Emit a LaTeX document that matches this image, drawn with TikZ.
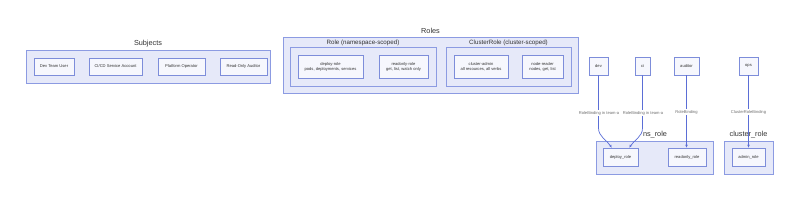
\documentclass[tikz,border=0pt]{standalone}
\usepackage{fontspec}
\setmainfont{Liberation Sans}
\usetikzlibrary{arrows.meta}
\definecolor{clfill}{HTML}{E6E9F9}
\definecolor{cldraw}{HTML}{8C9BE2}
\definecolor{ndfill}{HTML}{F6F7FD}
\definecolor{nddraw}{HTML}{7D8DDA}
\definecolor{edcol}{HTML}{5B6ED6}
\definecolor{txcol}{HTML}{333333}
\definecolor{lbcol}{HTML}{6E6E6E}
\begin{document}
\begin{tikzpicture}[x=1pt,y=-1pt,
  cluster/.style={draw=cldraw,fill=clfill,line width=0.9pt},
  ctitle/.style={text=txcol,font=\fontsize{7.3}{8}\selectfont,inner sep=0pt},
  csub/.style={text=txcol,font=\fontsize{6.2}{7}\selectfont,inner sep=0pt},
  nd/.style={draw=nddraw,fill=ndfill,line width=0.9pt,text=txcol,align=center,
    font=\fontsize{4.1}{5}\selectfont,inner sep=1pt,minimum height=18pt},
  edge/.style={draw=edcol,line width=0.7pt,-{Stealth[length=3pt,width=2.6pt]}},
  elabel/.style={fill=white,text=lbcol,font=\fontsize{4.1}{5}\selectfont,inner sep=0.6pt}]
\useasboundingbox (0,0) rectangle (800,201);
% Subjects
\draw[cluster] (26,50) rectangle (270,83);
\node[ctitle] (tsubj) at (148,44) {Subjects};
\node[nd,minimum width=40pt,minimum height=17pt] (u1) at (54,66.5) {Dev Team User};
\node[nd,minimum width=53pt,minimum height=17pt] (u2) at (115.5,66.5) {CI/CD Service Account};
\node[nd,minimum width=47pt,minimum height=17pt] (u3) at (181.5,66.5) {Platform Operator};
\node[nd,minimum width=47pt,minimum height=17pt] (u4) at (243.5,66.5) {Read-Only Auditor};
% Roles
\draw[cluster] (283,37) rectangle (578,93);
\node[ctitle] (troles) at (430.5,31) {Roles};
\draw[cluster] (290,47) rectangle (436,86);
\node[csub] (tns) at (363,42.5) {Role (namespace-scoped)};
\draw[cluster] (446,47) rectangle (571,86);
\node[csub] (tcl) at (508.5,42.5) {ClusterRole (cluster-scoped)};
\node[nd,minimum width=65pt,minimum height=23pt] (r1) at (330.5,66.5) {deploy-role\\pods, deployments, services};
\node[nd,minimum width=49pt,minimum height=23pt] (r2) at (403.5,66.5) {readonly-role\\get, list, watch only};
\node[nd,minimum width=54pt,minimum height=23pt] (r3) at (481,66.5) {cluster-admin\\all resources, all verbs};
\node[nd,minimum width=41pt,minimum height=23pt] (r4) at (542.5,66.5) {node-reader\\nodes, get, list};
% Bindings
\draw[cluster] (596,141) rectangle (713,174);
\node[ctitle] (tnsr) at (655,135) {ns\_role};
\draw[cluster] (724,141) rectangle (773,174);
\node[ctitle] (tclr) at (748.5,135) {cluster\_role};
\node[nd,minimum width=19pt] (dev) at (598.5,66) {dev};
\node[nd,minimum width=15pt] (ci) at (642.5,66) {ci};
\node[nd,minimum width=25pt] (aud) at (686.5,66) {auditor};
\node[nd,minimum width=19pt] (ops) at (748.5,66) {ops};
\node[nd,minimum width=35pt] (dr) at (620.5,157) {deploy\_role};
\node[nd,minimum width=38pt] (rr) at (687,157) {readonly\_role};
\node[nd,minimum width=33pt] (ar) at (748.5,157) {admin\_role};
\draw[edge] (dev.south) -- (598.5,128) .. controls (598.5,137) and (607,140) .. ([xshift=9pt]dr.north west);
\draw[edge] (ci.south) -- (642.5,128) .. controls (642.5,137) and (634,140) .. ([xshift=-9pt]dr.north east);
\draw[edge] (aud.south) -- (aud.south |- rr.north);
\draw[edge] (ops.south) -- (ops.south |- ar.north);
\node[elabel] (l1) at (599,113) {RoleBinding in team-a};
\node[elabel] (l2) at (643,113) {RoleBinding in team-a};
\node[elabel] (l3) at (686.5,112) {RoleBinding};
\node[elabel] (l4) at (748.5,112) {ClusterRoleBinding};
\end{tikzpicture}
\end{document}
